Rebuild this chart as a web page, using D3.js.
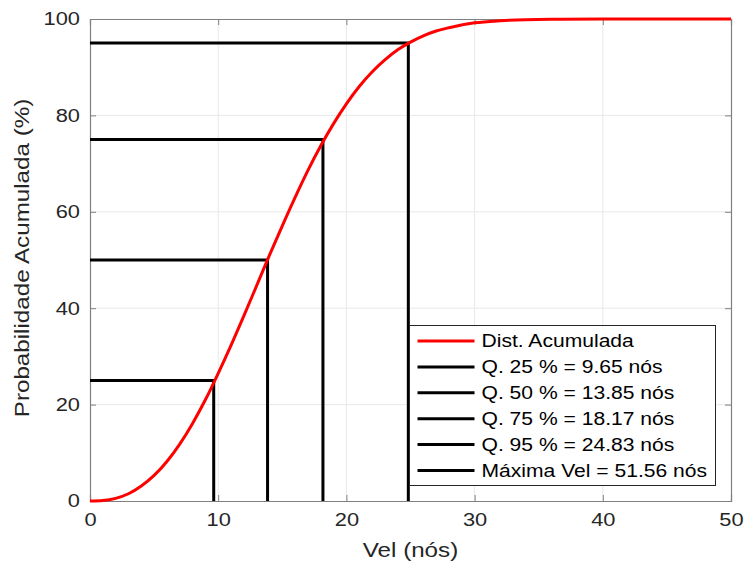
<!DOCTYPE html>
<html>
<head>
<meta charset="utf-8">
<script src="https://cdn.jsdelivr.net/npm/d3@7"></script>
<style>
  body { margin: 0; background: #fff; }
  text { font-family: "Liberation Sans", Arial, sans-serif; fill: #262626; }
</style>
</head>
<body>
<div id="chart"></div>
<script>
// curve (vel in knots, cumulative %)
var vel = [0, 1, 2, 3, 4, 5, 6, 7, 8, 9, 10, 11, 12, 13, 14, 15, 16, 17, 18, 19, 20,
           21, 22, 23, 24, 25, 26, 27, 28, 30, 32, 34, 36, 40, 45, 50];
var prob = [0, 0.1, 0.55, 1.5, 3.1, 5.3, 8.2, 11.8, 16.1, 21.0, 26.5, 32.3, 38.4, 44.7, 51.0,
            57.1, 63.0, 68.6, 73.7, 78.3, 82.4, 86.0, 89.0, 91.5, 93.6, 95.2, 96.5, 97.5, 98.2,
            99.2, 99.64, 99.86, 99.95, 100, 100, 100];

// quantiles
var qPct = [25, 50, 75, 95];
var qVel = [9.65, 13.85, 18.17, 24.83];
var maxVel = 51.56;

var legendLabels = ["Dist. Acumulada", "Q. 25 % = 9.65 nós", "Q. 50 % = 13.85 nós",
                    "Q. 75 % = 18.17 nós", "Q. 95 % = 24.83 nós", "Máxima Vel = 51.56 nós"];

var xTicks = [0, 10, 20, 30, 40, 50];
var yTicks = [0, 20, 40, 60, 80, 100];

var svgWidth = 746, svgHeight = 564;
var margin = { top: 19, right: 15, bottom: 63, left: 90 },
    width = svgWidth - margin.left - margin.right,
    height = svgHeight - margin.top - margin.bottom;

// the original font is wider than Arial, so stretch text a bit
var sx = 1.18;

var svg = d3.select("#chart").append("svg")
    .attr("width", svgWidth)
    .attr("height", svgHeight);

var g = svg.append("g")
    .attr("transform", `translate(${margin.left},${margin.top})`);

var x = d3.scaleLinear().domain([0, 50]).range([0, width]);
var y = d3.scaleLinear().domain([0, 100]).range([height, 0]);

// grid
g.append("g").selectAll("line").data(xTicks.slice(1, -1)).enter().append("line")
    .attr("x1", d => x(d)).attr("x2", d => x(d))
    .attr("y1", 0).attr("y2", height)
    .attr("stroke", "#e8e8e8").attr("stroke-width", 1);
g.append("g").selectAll("line").data(yTicks.slice(1, -1)).enter().append("line")
    .attr("y1", d => y(d)).attr("y2", d => y(d))
    .attr("x1", 0).attr("x2", width)
    .attr("stroke", "#e8e8e8").attr("stroke-width", 1);

// axes
var xAxis = g.append("g")
    .attr("transform", `translate(0,${height})`)
    .call(d3.axisBottom(x).tickValues(xTicks).tickSize(-6).tickPadding(12));
var yAxis = g.append("g")
    .call(d3.axisLeft(y).tickValues(yTicks).tickSize(-6).tickPadding(10));
var xTop = g.append("g")
    .call(d3.axisTop(x).tickValues(xTicks).tickSize(-6).tickFormat(""));
var yRight = g.append("g")
    .attr("transform", `translate(${width},0)`)
    .call(d3.axisRight(y).tickValues(yTicks).tickSize(-6).tickFormat(""));

[xAxis, yAxis, xTop, yRight].forEach(function(a) {
    a.select(".domain").attr("stroke", "#808080").attr("stroke-width", 1.2);
    a.selectAll(".tick line").attr("stroke", "#808080");
    a.selectAll(".tick text")
        .style("font-size", "18.5px")
        .attr("fill", "#262626")
        .attr("transform", `scale(${sx},1)`);
});
yAxis.selectAll(".tick text").attr("x", -10 / sx);

// quantile lines
var qData = qPct.map((p, i) => ({ p: p, v: qVel[i] }));
g.append("g").selectAll("path").data(qData).enter().append("path")
    .attr("d", d => `M${x(0)},${y(d.p)}H${x(d.v)}V${y(0)}`)
    .attr("fill", "none")
    .attr("stroke", "#000")
    .attr("stroke-width", 3);

// CDF curve
var line = d3.line()
    .x((d, i) => x(vel[i]))
    .y(d => y(d))
    .curve(d3.curveMonotoneX);
g.append("path")
    .datum(prob)
    .attr("d", line)
    .attr("fill", "none")
    .attr("stroke", "#ff0000")
    .attr("stroke-width", 3)
    .attr("stroke-linejoin", "round");

// axis labels
svg.append("text")
    .attr("transform", `translate(${margin.left + width / 2},557) scale(${sx},1)`)
    .attr("text-anchor", "middle")
    .style("font-size", "20.5px")
    .text("Vel (nós)");
svg.append("text")
    .attr("transform", `translate(29,258) rotate(-90) scale(${sx},1)`)
    .attr("text-anchor", "middle")
    .style("font-size", "20.5px")
    .text("Probabilidade Acumulada (%)");

// legend
var legend = svg.append("g").attr("transform", "translate(409.5,325.5)");
legend.append("rect")
    .attr("width", 306).attr("height", 160)
    .attr("fill", "#fff")
    .attr("stroke", "#262626").attr("stroke-width", 1);
var rows = legend.selectAll("g.row").data(legendLabels).enter().append("g")
    .attr("transform", (d, i) => `translate(0,${15.5 + i * 25.9})`);
rows.append("line")
    .attr("x1", 8).attr("x2", 65)
    .attr("stroke", (d, i) => i === 0 ? "#ff0000" : "#000")
    .attr("stroke-width", 3);
rows.append("text")
    .attr("transform", `translate(72,0) scale(1.14,1)`)
    .attr("dy", "0.35em")
    .style("font-size", "18.5px")
    .style("fill", "#000")
    .text(d => d);
</script>
</body>
</html>
